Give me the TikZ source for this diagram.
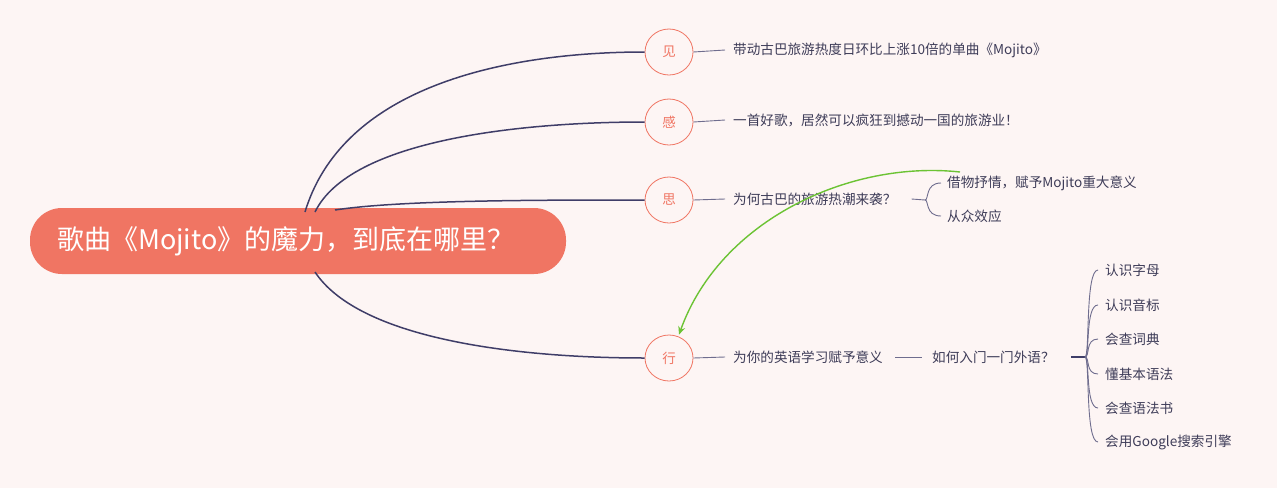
\documentclass[tikz,border=0pt]{standalone}
\usepackage{fontspec}
\setmainfont{Noto Sans CJK SC}
\usetikzlibrary{arrows.meta,shapes.geometric}
\definecolor{bg}{HTML}{FDF5F4}
\definecolor{sal}{HTML}{F07563}
\definecolor{navy}{HTML}{3F3D68}
\definecolor{txt}{HTML}{3E3C58}
\definecolor{grn}{HTML}{6CC334}
\tikzset{
 lvl/.style={ellipse,draw=sal,line width=0.8pt,fill=bg,text=sal,minimum width=48pt,minimum height=46pt,inner sep=0pt,font=\fontsize{13.5}{15}\selectfont},
 lab/.style={anchor=west,text=txt,inner sep=0pt,font=\fontsize{13.6}{15}\selectfont},
 br/.style={draw=navy,line width=1.5pt},
 thin/.style={draw=navy!75,line width=0.9pt}
}
\begin{document}
\begin{tikzpicture}[x=1pt,y=-1pt]
\fill[bg] (0,0) rectangle (1277,488);
\useasboundingbox (0,0) rectangle (1277,488);
\coordinate (r1) at (305,212);
\coordinate (r2) at (315,212);
\coordinate (r3) at (335,210);
\coordinate (r4) at (315,272);
\node[fill=sal,rounded corners=32pt,minimum width=536pt,minimum height=66pt] (root) at (298,241) {};
\node[anchor=west,text=white,inner sep=0pt,font=\fontsize{27}{30}\selectfont] (roott) at (57,241) {歌曲《Mojito》的魔力，到底在哪里？};
\node[lvl] (c1) at (669,52) {见};
\node[lvl] (c2) at (669,122) {感};
\node[lvl] (c3) at (669,200) {思};
\node[lvl] (c4) at (669,358) {行};
\draw[br] (r1) .. controls (345,80) and (520,52) .. (c1.west);
\draw[br] (r2) .. controls (350,140) and (520,122) .. (c2.west);
\draw[br] (r3) .. controls (400,200) and (540,200) .. (c3.west);
\draw[br] (r4) .. controls (360,340) and (520,358) .. (c4.west);
\node[lab] (t1) at (733,50) {带动古巴旅游热度日环比上涨10倍的单曲《Mojito》};
\node[lab] (t2) at (733,120) {一首好歌，居然可以疯狂到撼动一国的旅游业！};
\node[lab] (t3) at (733,199) {为何古巴的旅游热潮来袭？};
\node[lab] (t4) at (733,357) {为你的英语学习赋予意义};
\node[lab] (t5) at (932,357) {如何入门一门外语？};
\foreach \a/\b in {c1/t1,c2/t2,c3/t3,c4/t4} \draw[thin] (\a.east) -- ([xshift=-8pt]\b.west);
\draw[thin] ([xshift=12pt]t4.east) -- ([xshift=-10pt]t5.west);
\node[lab] (s1) at (947,183) {借物抒情，赋予Mojito重大意义};
\node[lab] (s2) at (947,216) {从众效应};
\coordinate (b3) at (925,200);
\draw[thin] ([xshift=15pt]t3.east) -- (b3);
\draw[thin] (b3) .. controls (929,200) and (925,183) .. ([xshift=-6pt]s1.west);
\draw[thin] (b3) .. controls (929,200) and (925,216) .. ([xshift=-6pt]s2.west);
\coordinate (b5) at (1085,357);
\draw[navy,line width=1.8pt] ([xshift=16pt]t5.east) -- (b5);
\foreach \i/\y/\t in {1/270/认识字母,2/305/认识音标,3/339/会查词典,4/374/懂基本语法,5/408/会查语法书,6/442/会用Google搜索引擎}{
 \node[lab] (k\i) at (1105,\y) {\t};
 \draw[thin] (b5) .. controls (1090,357) and (1085,\y) .. ([xshift=-7pt]k\i.west);
}
\coordinate (g0) at (960,172);
\draw[grn,line width=1.4pt,-{Stealth[length=8pt,width=7pt]}] (g0) .. controls (850,160) and (720,220) .. ([xshift=10pt]c4.north);
\end{tikzpicture}
\end{document}
